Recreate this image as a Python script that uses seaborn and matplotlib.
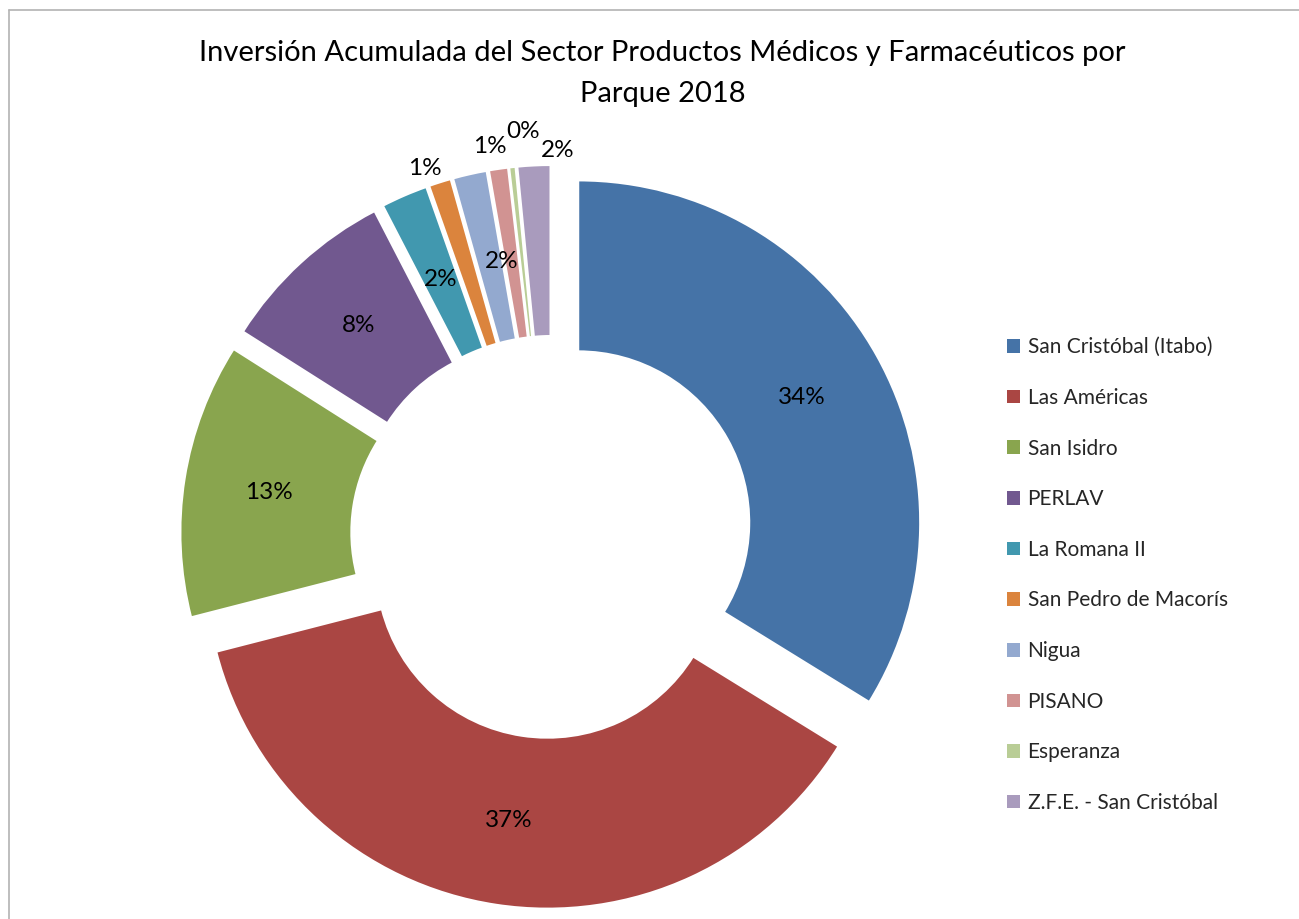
import numpy as np
import matplotlib
matplotlib.use('Agg')
import matplotlib.pyplot as plt
import seaborn as sns
from matplotlib.lines import Line2D
from matplotlib.patches import Patch

sns.set_theme(style='white')
plt.rcParams['font.family'] = ['Lato', 'DejaVu Sans']

# datos
parques = ['San Cristóbal (Itabo)', 'Las Américas', 'San Isidro', 'PERLAV',
           'La Romana II', 'San Pedro de Macorís', 'Nigua', 'PISANO',
           'Esperanza', 'Z.F.E. - San Cristóbal']
inversion = [33.8, 37.2, 13.0, 8.4, 2.2, 1.05, 1.6, 0.9, 0.3, 1.55]
colores = ['#4573A7', '#AA4643', '#89A54E', '#71588F', '#4198AF',
           '#DB843D', '#93A9CF', '#D19392', '#B9CD96', '#A99BBD']

# etiquetas pequeñas: (radio desde el centro, giro en grados)
ajuste = {4: (0.82, 0.0), 5: (1.14, 1.5), 6: (0.82, -2.5),
          7: (1.155, 0.7), 8: (1.19, -2.0), 9: (1.13, -3.7)}

W, H = 1299, 919
fig = plt.figure(figsize=(W / 100, H / 100), dpi=100)
fig.patch.set_facecolor('white')

cx, cy, R_px, S = 552, 537, 342, 390
ax = fig.add_axes([(cx - S) / W, (H - cy - S) / H, 2 * S / W, 2 * S / H])
lim = S / R_px

wedges, texts, autotexts = ax.pie(
    inversion, colors=colores, startangle=90, counterclock=False,
    explode=[30 / R_px] * len(inversion), radius=1.0,
    wedgeprops=dict(width=0.5, edgecolor='white', linewidth=1.5),
    autopct=lambda p: f'{p:.0f}%', pctdistance=0.75,
    textprops=dict(fontsize=17.5, color='black'))

for i, (w, t) in enumerate(zip(wedges, autotexts)):
    if i in ajuste:
        r, giro = ajuste[i]
        ang = np.deg2rad((w.theta1 + w.theta2) / 2 + giro)
        t.set_position((r * np.cos(ang), r * np.sin(ang)))

ax.set_xlim(-lim, lim)
ax.set_ylim(-lim, lim)
ax.set_aspect('equal')
ax.axis('off')

fig.text(0.51, 0.957, 'Inversión Acumulada del Sector Productos Médicos y Farmacéuticos por\nParque 2018',
         ha='center', va='top', fontsize=21, linespacing=1.72, color='black')

handles = [Patch(facecolor=c, edgecolor='none') for c in colores]
fig.legend(handles, parques, loc='upper left', bbox_to_anchor=(999 / W, 1 - 329 / H),
           frameon=False, fontsize=15, handlelength=0.62, handleheight=0.62,
           handletextpad=0.35, labelspacing=1.47, borderaxespad=0)

# borde del gráfico
fig.add_artist(Line2D([9 / W, 9 / W], [0, 1 - 10 / H], color='#B3B3B3', lw=1.2))
fig.add_artist(Line2D([9 / W, 1], [1 - 10 / H, 1 - 10 / H], color='#B3B3B3', lw=1.2))

plt.savefig('out.png', dpi=100)
plt.close(fig)
